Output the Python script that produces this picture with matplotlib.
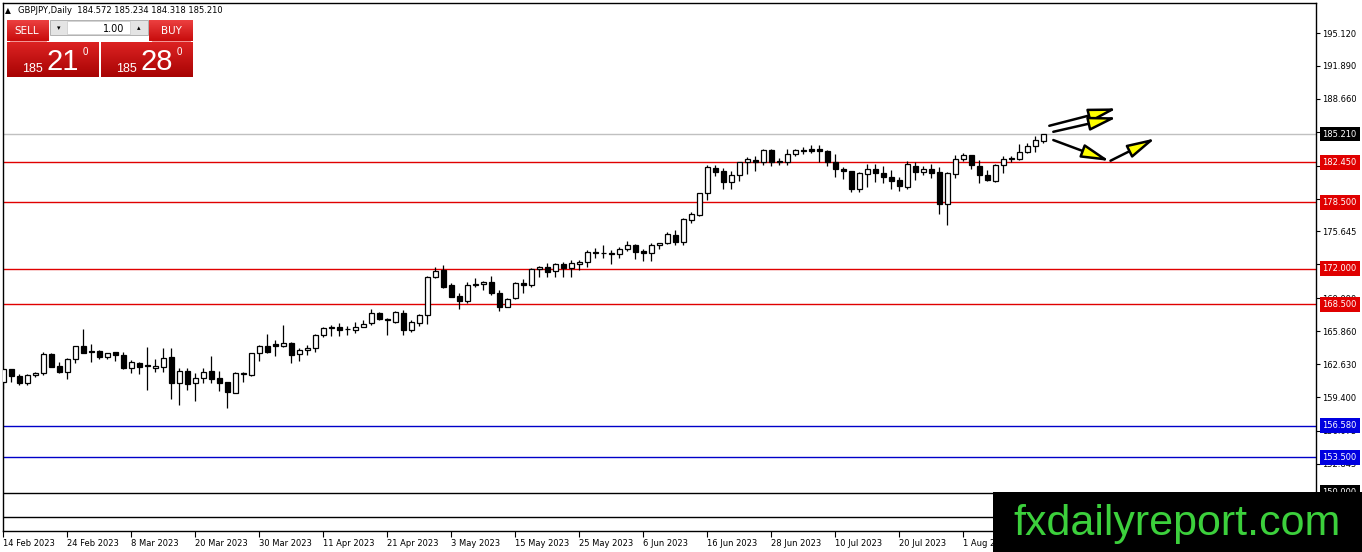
import numpy as np
import matplotlib
matplotlib.use("Agg")
import matplotlib.pyplot as plt
from matplotlib.patches import Rectangle
from matplotlib.colors import LinearSegmentedColormap

# GBPJPY daily candles, 14 Feb 2023 .. 4 Aug 2023
opens = [160.90, 162.12, 161.46, 160.75, 161.56, 161.73, 163.62, 162.44, 161.89, 163.13,
         164.41, 163.92, 163.95, 163.36, 163.79, 163.52, 162.28, 162.77, 162.57, 162.22,
         162.38, 163.30, 160.81, 161.95, 160.81, 161.24, 161.92, 161.24, 160.88, 159.82,
         161.66, 161.56, 163.69, 164.41, 164.60, 164.44, 164.73, 163.59, 164.01, 164.18,
         165.46, 166.14, 166.30, 166.10, 165.98, 166.32, 166.63, 167.67, 167.03, 166.79,
         167.67, 165.98, 166.69, 167.45, 171.21, 171.86, 170.39, 169.31, 168.85, 170.39,
         170.46, 170.66, 169.64, 168.26, 169.09, 170.56, 170.39, 171.93, 172.16, 171.77,
         172.42, 172.03, 172.42, 172.62, 173.63, 173.50, 173.53, 173.40, 173.89, 174.32,
         173.76, 173.50, 174.29, 174.48, 175.30, 174.64, 176.77, 177.26, 179.39, 181.84,
         181.57, 180.52, 181.18, 182.42, 182.62, 182.42, 183.63, 182.52, 182.48, 183.21,
         183.56, 183.73, 183.73, 183.56, 182.42, 181.77, 181.57, 179.85, 181.24, 181.77,
         181.40, 181.02, 180.69, 180.06, 182.06, 181.45, 181.77, 181.50, 178.31, 181.27,
         182.72, 183.14, 182.12, 181.16, 180.59, 182.19, 182.75, 182.78, 183.40, 184.05,
         184.572]
highs = [162.15, 162.18, 161.63, 161.66, 161.89, 163.79, 163.69, 162.87, 163.20, 164.45,
         166.07, 164.60, 164.01, 163.72, 163.85, 163.85, 163.03, 162.80, 164.34, 163.10,
         164.18, 164.18, 162.22, 162.22, 161.73, 162.28, 163.46, 161.95, 160.91, 161.89,
         161.89, 163.75, 164.51, 165.56, 165.00, 166.47, 164.76, 164.18, 164.51, 165.56,
         166.30, 166.47, 166.69, 166.37, 166.73, 166.96, 168.01, 167.77, 167.12, 167.87,
         167.94, 166.96, 167.55, 171.27, 172.19, 172.35, 170.56, 169.64, 170.66, 171.05,
         170.78, 171.27, 169.90, 169.09, 170.72, 170.95, 172.03, 172.26, 172.52, 172.58,
         172.68, 172.84, 172.84, 173.83, 173.99, 174.29, 173.83, 174.09, 174.74, 174.41,
         173.89, 174.48, 174.55, 175.62, 175.79, 176.94, 177.58, 179.45, 182.16, 182.16,
         181.84, 181.57, 182.48, 182.97, 183.04, 183.73, 183.73, 182.81, 183.70, 183.73,
         183.96, 184.12, 184.12, 183.63, 183.24, 181.99, 181.60, 181.50, 182.26, 182.23,
         182.06, 181.67, 181.02, 182.52, 182.48, 182.06, 182.23, 181.99, 181.50, 183.14,
         183.30, 183.20, 182.65, 181.67, 182.22, 183.07, 183.07, 184.25, 184.32, 185.00,
         185.234]
lows = [160.19, 160.85, 160.55, 160.58, 161.34, 161.56, 162.35, 161.73, 161.17, 162.71,
        163.70, 162.87, 163.10, 163.16, 162.97, 162.12, 161.79, 161.66, 160.09, 161.83,
        161.89, 159.21, 158.62, 160.09, 159.01, 160.81, 160.81, 160.02, 158.33, 159.80,
        160.85, 161.46, 162.93, 163.69, 163.43, 164.28, 162.77, 162.93, 163.52, 163.85,
        165.26, 165.42, 165.42, 165.49, 165.71, 166.27, 166.47, 166.96, 165.49, 166.69,
        165.49, 165.81, 166.37, 166.57, 171.05, 170.07, 169.18, 168.01, 168.65, 170.22,
        169.90, 169.41, 167.87, 168.20, 168.99, 169.58, 170.22, 171.21, 171.21, 171.21,
        171.21, 171.21, 171.86, 172.19, 173.01, 173.01, 172.45, 173.01, 173.76, 172.91,
        172.77, 172.70, 173.89, 174.41, 174.32, 174.32, 176.44, 177.20, 178.73, 181.11,
        179.81, 179.81, 180.62, 181.25, 181.60, 182.16, 182.09, 182.16, 182.16, 183.04,
        183.21, 183.30, 182.42, 182.06, 181.02, 180.76, 179.48, 179.48, 180.03, 180.52,
        180.39, 179.78, 179.64, 179.81, 180.69, 181.18, 180.86, 177.33, 176.28, 180.86,
        182.52, 181.77, 180.45, 180.62, 180.55, 181.37, 182.42, 182.62, 183.30, 183.40,
        184.318]
closes = [162.12, 161.46, 160.75, 161.56, 161.79, 163.62, 162.38, 161.89, 163.10, 164.41,
          163.75, 163.79, 163.36, 163.69, 163.52, 162.28, 162.81, 162.38, 162.44, 162.47,
          163.20, 160.81, 161.99, 160.65, 161.24, 161.89, 161.17, 160.81, 159.92, 161.73,
          161.79, 163.69, 164.41, 163.79, 164.44, 164.67, 163.55, 164.01, 164.18, 165.49,
          166.14, 166.24, 165.98, 166.05, 166.32, 166.61, 167.61, 167.06, 166.96, 167.74,
          165.98, 166.79, 167.45, 171.15, 171.79, 170.22, 169.24, 168.85, 170.42, 170.49,
          170.69, 169.58, 168.26, 168.99, 170.62, 170.36, 171.93, 172.16, 171.70, 172.42,
          172.03, 172.52, 172.64, 173.60, 173.50, 173.56, 173.40, 173.89, 174.32, 173.60,
          173.56, 174.32, 174.48, 175.39, 174.58, 176.84, 177.36, 179.39, 181.94, 181.45,
          180.52, 181.18, 182.42, 182.75, 182.42, 183.63, 182.48, 182.42, 183.24, 183.63,
          183.63, 183.56, 183.56, 182.42, 181.74, 181.57, 179.85, 181.34, 181.77, 181.34,
          180.99, 180.62, 180.13, 182.26, 181.45, 181.77, 181.40, 178.31, 181.34, 182.72,
          183.14, 182.19, 181.20, 180.69, 182.19, 182.75, 182.85, 183.40, 184.02, 184.61,
          185.210]

date_labels = ['14 Feb 2023', '24 Feb 2023', '8 Mar 2023', '20 Mar 2023', '30 Mar 2023',
               '11 Apr 2023', '21 Apr 2023', '3 May 2023', '15 May 2023', '25 May 2023',
               '6 Jun 2023', '16 Jun 2023', '28 Jun 2023', '10 Jul 2023', '20 Jul 2023',
               '1 Aug 2023', '11 Aug 2023']
label_step = 8

price_ticks = [195.120, 191.890, 188.660, 185.430, 182.105, 178.875, 175.645, 172.415,
               169.090, 165.860, 162.630, 159.400, 156.075, 152.845]

red_levels = [182.45, 178.50, 172.00, 168.50]
blue_levels = [156.58, 153.50]
black_levels = [150.00, 147.60]
last_price = 185.21

# arrows drawn on the chart: (bar, price) start -> (bar, price) tip
arrows = [((130.75, 186.02), (139.2, 187.73)),
          ((131.25, 185.43), (139.2, 186.85)),
          ((131.25, 184.62), (138.3, 182.56)),
          ((138.4, 182.59), (144.0, 184.79))]

W, H = 1362, 552
fig = plt.figure(figsize=(W / 100, H / 100), dpi=100)
fig.patch.set_facecolor('white')

L, R, T, B = 3, 1316, 3, 531
ax = fig.add_axes([L / W, 1 - B / H, (R - L) / W, (B - T) / H])
ax.set_xlim((L - 3.3) / 8, (R - 3.3) / 8)
ax.set_ylim(146.25, 198.07)

x = np.arange(len(closes))
o = np.array(opens); c = np.array(closes)
hi = np.array(highs); lo = np.array(lows)

for lv in red_levels:
    ax.axhline(lv, color='#e00000', lw=1, zorder=1)
for lv in blue_levels:
    ax.axhline(lv, color='#0000c8', lw=1, zorder=1)
for lv in black_levels:
    ax.axhline(lv, color='black', lw=1, zorder=1)
ax.axhline(last_price, color='#c0c0c0', lw=1, zorder=1)

ax.vlines(x, lo, hi, color='black', lw=0.9, zorder=2)
up = c >= o
body_lo = np.minimum(o, c)
body_h = np.maximum(np.abs(c - o), 0.03)
ax.bar(x[up], body_h[up], bottom=body_lo[up], width=0.62, color='white',
       edgecolor='black', linewidth=0.9, zorder=3)
ax.bar(x[~up], body_h[~up], bottom=body_lo[~up], width=0.62, color='black',
       edgecolor='black', linewidth=0.9, zorder=3)

for (x0, y0), (x1, y1) in arrows:
    ax.annotate('', xy=(x1, y1), xytext=(x0, y0),
                arrowprops=dict(arrowstyle='-|>,head_length=1.7,head_width=0.42',
                                fc='yellow', ec='black', lw=1.8,
                                shrinkA=0, shrinkB=0), zorder=5)

# axes cosmetics
for s in ax.spines.values():
    s.set_color('black')
    s.set_linewidth(1)
ax.yaxis.tick_right()
ax.set_yticks(price_ticks)
ax.set_yticklabels(['%.3f' % v for v in price_ticks])
ax.tick_params(axis='y', direction='out', length=3, width=0.8, labelsize=6, pad=1.5)
xt = np.arange(0, len(date_labels) * label_step, label_step)
ax.set_xticks(xt)
ax.set_xticklabels(date_labels)
for lab in ax.get_xticklabels():
    lab.set_ha('left')
ax.tick_params(axis='x', direction='out', length=4, width=0.8, labelsize=6, pad=2)

ytr = ax.get_yaxis_transform()
def level_tag(v, fc):
    ax.text(1 + 6.5 / (R - L), v, '%.3f' % v, transform=ytr, color='white', fontsize=6,
            va='center', ha='left', zorder=6, clip_on=False,
            bbox=dict(boxstyle='square,pad=0.35', fc=fc, ec='none'))
for lv in red_levels:
    level_tag(lv, '#e00000')
for lv in blue_levels:
    level_tag(lv, '#0000e0')
level_tag(last_price, 'black')
level_tag(black_levels[0], 'black')

# overlay in pixel coordinates for the trading panel and watermark
ov = fig.add_axes([0, 0, 1, 1], zorder=10)
ov.set_xlim(0, W); ov.set_ylim(H, 0)
ov.axis('off')
ov.patch.set_alpha(0)

def grad(x0, y0, x1, y1, ctop, cbot):
    cm = LinearSegmentedColormap.from_list('g', [ctop, cbot])
    ov.imshow(np.linspace(0, 1, 40).reshape(-1, 1), extent=(x0, x1, y1, y0),
              cmap=cm, aspect='auto', origin='upper', interpolation='bilinear')

grad(7, 20, 49, 41, '#ec4040', '#c80c0c')
grad(149, 20, 193, 41, '#ec4040', '#c80c0c')
grad(7, 42, 99, 77, '#dc2222', '#a80404')
grad(101, 42, 193, 77, '#dc2222', '#a80404')
ov.set_xlim(0, W); ov.set_ylim(H, 0)
ov.plot([10, 46], [40.5, 40.5], color='#f08080', lw=0.6)
ov.plot([152, 190], [40.5, 40.5], color='#f08080', lw=0.6)
ov.add_patch(Rectangle((50, 20), 98, 15, fc='#e4e4e4', ec='#a8a8a8', lw=0.6))
ov.add_patch(Rectangle((67, 21), 63, 13, fc='white', ec='#c8c8c8', lw=0.5))
ov.text(58.5, 28, '\u25be', fontsize=5, ha='center', va='center')
ov.text(139, 28, '\u25b4', fontsize=5, ha='center', va='center')
ov.text(124, 28.5, '1.00', fontsize=7, ha='right', va='center')
ov.text(27, 30.5, 'SELL', fontsize=7.5, color='white', ha='center', va='center')
ov.text(171, 30.5, 'BUY', fontsize=7.5, color='white', ha='center', va='center')
for bx, big, small in [(7, '21', '185'), (101, '28', '185')]:
    ov.text(bx + 36, 72, small, fontsize=9, color='white', ha='right', va='baseline',
            family='Liberation Sans')
    ov.text(bx + 40, 70, big, fontsize=21, color='white', ha='left', va='baseline',
            family='Liberation Sans')
    ov.text(bx + 76, 55, '0', fontsize=7, color='white', ha='left', va='baseline',
            family='Liberation Sans')
ov.text(5, 10.5, '\u25b2', fontsize=5.5, ha='left', va='center')
ov.text(18, 10.5, 'GBPJPY,Daily  184.572 185.234 184.318 185.210', fontsize=6,
        ha='left', va='center')

ov.add_patch(Rectangle((993, 492), W - 993, H - 492, fc='black', ec='none'))
ov.text(1177, 524, 'fxdailyreport.com', fontsize=31, color='#3cd03c',
        ha='center', va='center', family='Liberation Sans')

fig.savefig('out.png', dpi=100, facecolor='white')
